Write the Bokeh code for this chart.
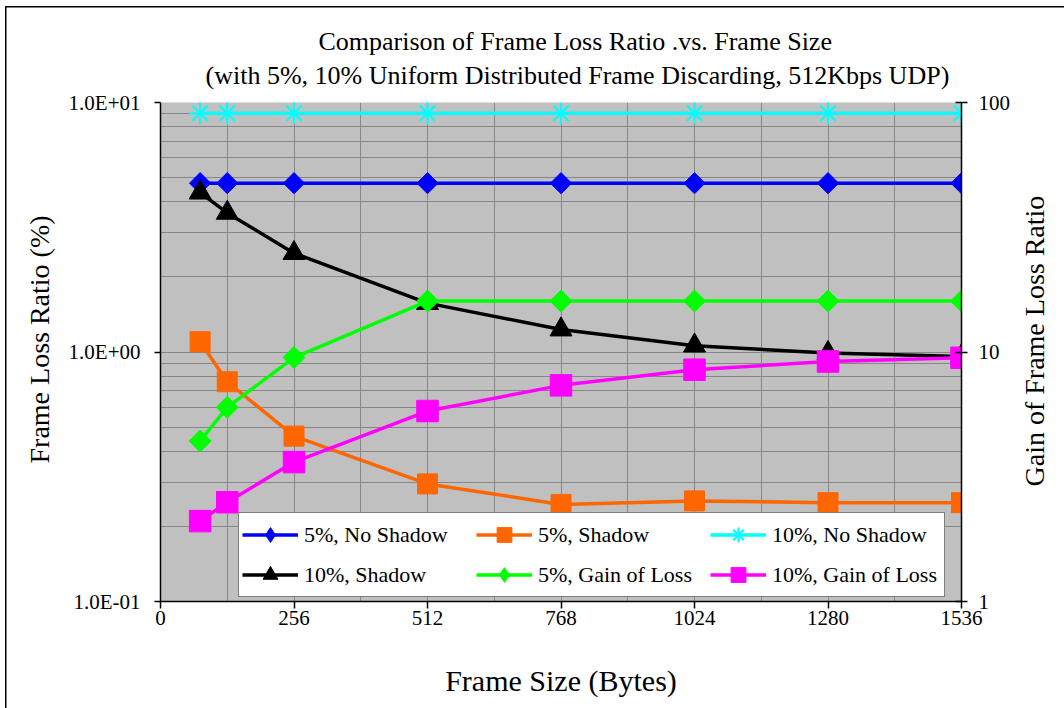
import math
import numpy as np
from bokeh.plotting import figure
from bokeh.layouts import row
from bokeh.models import (Range1d, LogScale, LogAxis, FixedTicker, CustomJSTickFormatter,
                          Legend, LegendItem, Title)
from bokeh.embed import file_html
from bokeh.resources import INLINE

# ---------------- data ----------------
frame_size = [76, 128, 256, 512, 768, 1024, 1280, 1536]
loss_5_no_shadow = [4.75, 4.75, 4.75, 4.75, 4.75, 4.75, 4.75, 4.75]
loss_5_shadow = [1.10, 0.76, 0.46, 0.296, 0.245, 0.253, 0.249, 0.249]
loss_10_no_shadow = [9.05, 9.05, 9.05, 9.05, 9.05, 9.05, 9.05, 9.05]
loss_10_shadow = [4.35, 3.61, 2.49, 1.57, 1.23, 1.06, 0.99, 0.96]
gain_5 = [4.4, 6.0, 9.5, 16.0, 16.0, 16.0, 16.0, 16.0]
gain_10 = [2.1, 2.5, 3.62, 5.8, 7.35, 8.49, 9.16, 9.48]

series_names = ["5%, No Shadow", "5%, Shadow", "10%, No Shadow",
                "10%, Shadow", "5%, Gain of Loss", "10%, Gain of Loss"]

x_ticks = [0, 256, 512, 768, 1024, 1280, 1536]
x_minor_ticks = [128, 384, 640, 896, 1152, 1408]
left_ticks = [0.1, 1, 10]
left_minor_ticks = [0.2, 0.3, 0.4, 0.5, 0.6, 0.7, 0.8, 0.9, 2, 3, 4, 5, 6, 7, 8, 9]
right_ticks = [1, 10, 100]

title_line1 = "Comparison of Frame Loss Ratio .vs. Frame Size"
title_line2 = "(with 5%, 10% Uniform Distributed Frame Discarding, 512Kbps UDP)"
x_label = "Frame Size (Bytes)"
y_label = "Frame Loss Ratio (%)"
y2_label = "Gain of Frame Loss Ratio"

FONT = "Liberation Serif"
GRID = "#878787"

p = figure(width=1016, height=708, title=None,
           x_range=Range1d(0, 1536), y_range=Range1d(0.1, 10), y_axis_type="log",
           output_backend="svg", toolbar_location=None,
           min_border_left=160, min_border_right=55, min_border_top=102, min_border_bottom=107,
           background_fill_color="#C0C0C0", border_fill_color="white", border_fill_alpha=0,
           outline_line_color=None)
# outer chart border (top and left edges, as in the reference)
p.styles = {"background-color": "white",
            "box-shadow": "inset 5px 6px 0 0 white, inset 6.5px 7.5px 0 0 black"}

p.extra_y_ranges = {"gain": Range1d(1, 100)}
p.extra_y_scales = {"gain": LogScale()}

# ---- x axis ----
xt = FixedTicker(ticks=x_ticks, minor_ticks=x_minor_ticks)
xa = p.xaxis[0]
xa.ticker = xt
p.xgrid[0].ticker = xt
p.xgrid.grid_line_color = GRID
p.xgrid.minor_grid_line_color = GRID
xa.axis_label = x_label
xa.axis_label_text_font = FONT
xa.axis_label_text_font_style = "normal"
xa.axis_label_text_font_size = "30px"
xa.axis_label_text_color = "black"
xa.axis_label_standoff = 36
xa.major_label_text_font = FONT
xa.major_label_text_font_size = "21px"
xa.major_label_text_color = "black"
xa.major_label_standoff = 2
xa.major_tick_in = 0
xa.major_tick_out = 7
xa.minor_tick_line_color = None
xa.axis_line_color = "black"
xa.axis_line_width = 1.5
xa.major_tick_line_color = "black"
xa.major_tick_line_width = 1.5

# ---- left axis ----
yt = FixedTicker(ticks=left_ticks, minor_ticks=left_minor_ticks)
ya = p.yaxis[0]
ya.ticker = yt
p.ygrid[0].ticker = yt
p.ygrid.grid_line_color = GRID
p.ygrid.minor_grid_line_color = GRID
ya.formatter = CustomJSTickFormatter(code="""
const e = Math.round(Math.log10(tick));
return "1.0E" + (e < 0 ? "-" : "+") + String(Math.abs(e)).padStart(2, "0");
""")
ya.major_label_text_font = FONT
ya.major_label_text_font_size = "21px"
ya.major_label_text_color = "black"
ya.major_label_standoff = 14
ya.major_tick_in = 0
ya.major_tick_out = 6
ya.minor_tick_line_color = None
ya.axis_line_color = "black"
ya.axis_line_width = 1.5
ya.major_tick_line_color = "black"
ya.major_tick_line_width = 1.5

# left axis title as a side-panel title so it can sit slightly above the frame centre
p.add_layout(Title(text=y_label, align="left", offset=138, standoff=22,
                   text_font=FONT, text_font_size="28px", text_font_style="normal",
                   text_color="black"), "left")

# ---- right axis ----
ra = LogAxis(y_range_name="gain", ticker=FixedTicker(ticks=right_ticks),
             formatter=CustomJSTickFormatter(code="return tick.toFixed(0);"))
ra.major_label_text_font = FONT
ra.major_label_text_font_size = "21px"
ra.major_label_text_color = "black"
ra.major_label_standoff = 11
ra.major_tick_in = 6
ra.major_tick_out = 6
ra.minor_tick_line_color = None
ra.axis_line_color = "black"
ra.axis_line_width = 1.5
ra.major_tick_line_color = "black"
ra.major_tick_line_width = 1.5
p.add_layout(ra, "right")

# ---- series ----
LW = 3.5
items = []

def add_series(name, ys, color, marker, size, angle=0.0, rng="default", mlw=1.0, legend_marker=None):
    kw = {} if rng == "default" else {"y_range_name": rng}
    ln = p.line(frame_size, ys, line_color=color, line_width=LW, **kw)
    sc = p.scatter(frame_size, ys, marker=marker, size=size, angle=angle,
                   fill_color=color, line_color=color, line_width=mlw, **kw)
    rends = [ln, sc]
    if legend_marker is not None:
        # legend-only key glyph (a single NaN point, never drawn in the plot)
        lg = p.scatter(x=np.array([np.nan]), y=np.array([np.nan]), marker=legend_marker,
                       size=size, fill_color=color, line_color=color, **kw)
        rends = [ln, lg]
    items.append(LegendItem(label=name, renderers=rends))

add_series(series_names[0], loss_5_no_shadow, "#0000FF", "square", 15, angle=math.pi / 4,
           legend_marker="diamond")
add_series(series_names[1], loss_5_shadow, "#FF6600", "square", 20)
add_series(series_names[2], loss_10_no_shadow, "#00FFFF", "asterisk", 22, mlw=2.2)
add_series(series_names[3], loss_10_shadow, "#000000", "triangle", 22)
add_series(series_names[4], gain_5, "#00FF00", "square", 15.5, angle=math.pi / 4, rng="gain",
           legend_marker="diamond")
add_series(series_names[5], gain_10, "#FF00FF", "square", 21.5, rng="gain")

legend = Legend(items=items, location=(78, 4), orientation="horizontal", ncols=3,
                glyph_width=56, glyph_height=37, label_width=169, label_height=37,
                label_standoff=6, spacing=3, padding=3, margin=0,
                border_line_color="black", border_line_width=1.5,
                background_fill_color="white", background_fill_alpha=1.0,
                label_text_font=FONT, label_text_font_size="22px",
                label_text_color="black")
p.add_layout(legend)

# ---- titles ----
t2 = Title(text=title_line2, align="left", offset=45, standoff=26, text_line_height=0.7,
           text_font=FONT, text_font_size="26px", text_font_style="normal", text_color="black")
p.add_layout(t2, "above")
t1 = Title(text=title_line1, align="left", offset=158, standoff=0,
           text_font=FONT, text_font_size="26px", text_font_style="normal", text_color="black")
try:
    t1.standoff = -20   # pull the first line down, closer to the second
except Exception:
    t1.standoff = 0
p.add_layout(t1, "above")

# ---- right-hand axis title panel (text reads bottom-to-top, like the left one) ----
p2 = figure(width=48, height=708, title=None, output_backend="svg", toolbar_location=None,
            x_axis_location=None, y_axis_location=None,
            min_border_left=0, min_border_right=0, min_border_top=102, min_border_bottom=107,
            background_fill_alpha=0, border_fill_alpha=0, outline_line_color=None)
p2.grid.visible = False
p2.styles = {"background-color": "white",
             "box-shadow": "inset 0 6px 0 0 white, inset 0 7.5px 0 0 black"}
p2.add_layout(Title(text=y2_label, align="left", offset=115, standoff=0,
                    text_font=FONT, text_font_size="28px", text_font_style="normal",
                    text_color="black"), "left")

layout = row(p, p2)
open("out.html", "w").write(file_html(layout, INLINE))
